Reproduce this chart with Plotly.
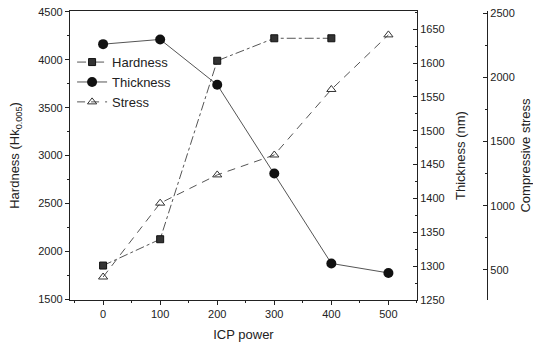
import plotly.graph_objects as go

icp_power = [0, 100, 200, 300, 400, 500]
hardness_x = [0, 100, 200, 300, 400]
hardness = [1850, 2125, 3990, 4225, 4225]
thickness = [1628, 1635, 1568, 1437, 1304, 1290]
stress = [445, 1020, 1240, 1395, 1905, 2330]

FONT = "Liberation Sans, Arial, sans-serif"
INK = "#222222"
LINE = "#555555"

fig = go.Figure()
fig.add_trace(go.Scatter(
    x=hardness_x, y=hardness, name="Hardness", mode="lines+markers",
    line=dict(color=LINE, width=1, dash="dashdot"),
    marker=dict(symbol="square", size=7, color="#333333", line=dict(color="#111111", width=1)),
    yaxis="y"))
fig.add_trace(go.Scatter(
    x=icp_power, y=thickness, name="Thickness", mode="lines+markers",
    line=dict(color=LINE, width=1),
    marker=dict(symbol="circle", size=10, color="#111111"),
    yaxis="y2"))
fig.add_trace(go.Scatter(
    x=icp_power, y=stress, name="Stress", mode="lines+markers",
    line=dict(color=LINE, width=1, dash="8px,6px"),
    marker=dict(symbol="triangle-up-open", size=8, color="#333333", line=dict(width=1)),
    yaxis="y3"))

tick_common = dict(showline=True, linecolor=INK, linewidth=1.2, tickcolor=INK,
                   tickfont=dict(family=FONT, size=11, color=INK),
                   showgrid=False, zeroline=False, ticklen=4, automargin=False)

fig.update_layout(
    width=533, height=348,
    margin=dict(l=70, r=46, t=11, b=48, autoexpand=False),
    paper_bgcolor="white", plot_bgcolor="white",
    showlegend=True,
    legend=dict(x=0.005, y=0.875, xanchor="left", yanchor="top",
                bgcolor="rgba(0,0,0,0)", font=dict(family=FONT, size=13, color=INK),
                tracegroupgap=0, itemwidth=30),
    xaxis=dict(domain=[0, 0.832], range=[-58, 550], tickvals=[0, 100, 200, 300, 400, 500],
               ticks="outside", mirror=True,
               minor=dict(dtick=50, ticks="outside", ticklen=2, tickcolor=INK),
               title=dict(text="ICP power", font=dict(family=FONT, size=13, color=INK), standoff=10),
               **tick_common),
    yaxis=dict(range=[1490, 4510], dtick=500, ticks="outside",
               minor=dict(dtick=250, ticks="outside", ticklen=2, tickcolor=INK),
               title=dict(text="Hardness (Hk<sub>0.005</sub>)", font=dict(family=FONT, size=13, color=INK), standoff=15),
               **tick_common),
    yaxis2=dict(range=[1250, 1677], dtick=50, overlaying="y", side="right", anchor="x",
                ticks="inside",
                minor=dict(dtick=25, ticks="inside", ticklen=2, tickcolor=INK),
                title=dict(text="Thickness (nm)", font=dict(family=FONT, size=13, color=INK), standoff=12),
                **tick_common),
    yaxis3=dict(range=[266, 2516], dtick=500, tick0=500, overlaying="y", side="right",
                anchor="free", position=1.0, ticks="inside",
                minor=dict(dtick=250, ticks="inside", ticklen=2, tickcolor=INK),
                title=dict(text="Compressive stress", font=dict(family=FONT, size=13, color=INK), standoff=26),
                **tick_common),
)

fig.write_html("out.html")
